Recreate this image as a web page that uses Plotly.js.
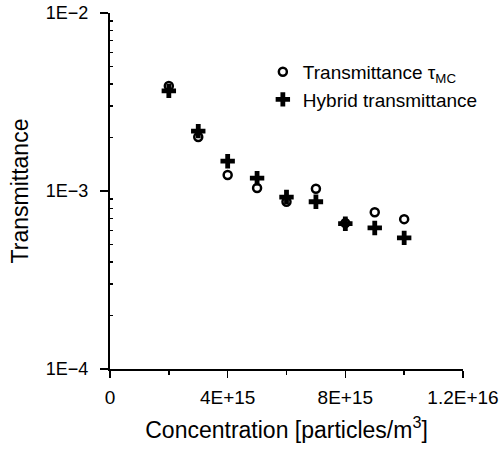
<!DOCTYPE html>
<html><head><meta charset="utf-8">
<script src="https://cdn.plot.ly/plotly-3.0.1.min.js"></script>
<style>html,body{margin:0;padding:0;background:#fff}#plot{width:501px;height:450px}</style>
</head><body><div id="plot"></div>
<script>
const concentration = [2e15, 3e15, 4e15, 5e15, 6e15, 7e15, 8e15, 9e15, 1e16];
const transmittanceMC = [3.89e-3, 2.01e-3, 1.23e-3, 1.04e-3, 8.7e-4, 1.03e-3, 6.6e-4, 7.6e-4, 6.95e-4];
const hybridTransmittance = [3.65e-3, 2.17e-3, 1.47e-3, 1.18e-3, 9.25e-4, 8.7e-4, 6.55e-4, 6.2e-4, 5.45e-4];
const yTickVals = [1e-4, 1e-3, 1e-2];
const yTickText = ['1E\u22124', '1E\u22123', '1E\u22122'];
const xTickVals = [0, 4e15, 8e15, 1.2e16];
const xTickText = ['0', '4E+15', '8E+15', '1.2E+16'];
const xMinorVals = [2e15, 6e15, 1e16];

const yMinorVals = [];
for (let d = -4; d < -2; d++) for (let m = 2; m <= 9; m++) yMinorVals.push(m * Math.pow(10, d));

const font = 'Liberation Sans, Arial, sans-serif';
const traces = [
  {x: concentration, y: transmittanceMC, mode: 'markers', type: 'scatter',
   name: 'Transmittance \u03c4<sub>MC</sub>',
   marker: {symbol: 'circle-open', size: 8, color: '#000', line: {width: 2.5, color: '#000'}}},
  {x: concentration, y: hybridTransmittance, mode: 'markers', type: 'scatter',
   name: 'Hybrid transmittance',
   marker: {symbol: 'cross', size: 12, color: '#000', line: {width: 0}}}
];
const layout = {
  width: 501, height: 450,
  margin: {l: 110, r: 38, t: 13, b: 81},
  paper_bgcolor: '#fff', plot_bgcolor: '#fff',
  font: {family: font, color: '#000', size: 18},
  showlegend: true,
  legend: {x: 0.433, y: 0.888, xanchor: 'left', yanchor: 'top', bgcolor: 'rgba(0,0,0,0)',
           font: {size: 19, family: font}, itemwidth: 30, tracegroupgap: 0},
  xaxis: {range: [0, 1.2e16], tickvals: xTickVals, ticktext: xTickText,
          ticks: 'outside', ticklen: 7, tickwidth: 1.5, tickcolor: '#000',
          ticklabelstandoff: 3,
          showline: true, linewidth: 2, linecolor: '#000', showgrid: false, zeroline: false,
          tickfont: {size: 19, family: font},
          minor: {tickvals: xMinorVals, ticks: 'outside', ticklen: 4, tickwidth: 1.5, tickcolor: '#000', showgrid: false},
          title: {text: 'Concentration [particles/m<sup>3</sup>]', font: {size: 23, family: font}, standoff: 15}},
  yaxis: {type: 'log', range: [-4, -2], tickvals: yTickVals, ticktext: yTickText,
          ticks: 'outside', ticklen: 8, tickwidth: 1.5, tickcolor: '#000',
          ticklabelstandoff: 8,
          showline: true, linewidth: 2, linecolor: '#000', showgrid: false, zeroline: false,
          tickfont: {size: 18, family: font},
          minor: {tickvals: yMinorVals, ticks: 'inside', ticklen: 3, tickwidth: 1.5, tickcolor: '#000', showgrid: false},
          title: {text: 'Transmittance', font: {size: 23, family: font}, standoff: 11}}
};
Plotly.newPlot('plot', traces, layout, {displayModeBar: false, staticPlot: true});
</script></body></html>
